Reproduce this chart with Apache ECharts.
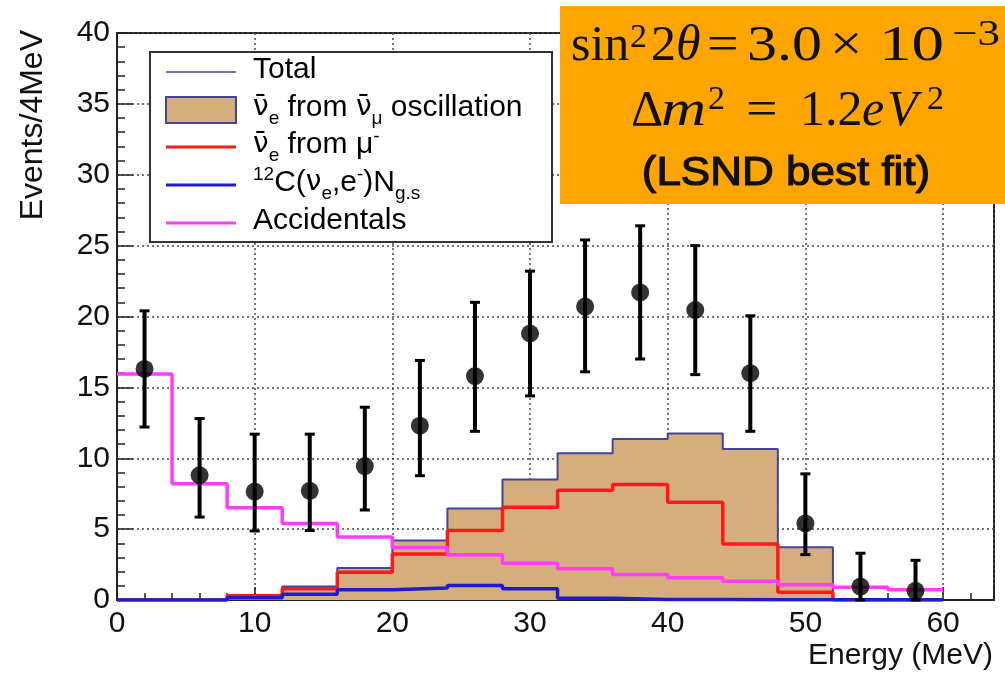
<!DOCTYPE html>
<html>
<head>
<meta charset="utf-8">
<script src="https://cdn.jsdelivr.net/npm/echarts@6/dist/echarts.min.js"></script>
<style>
  html, body { margin: 0; padding: 0; background: #fff; }
  #chart { width: 1005px; height: 675px; }
</style>
</head>
<body>
<div id="chart"></div>
<script>
// bin edges (MeV), 4 MeV wide
var binEdges = [0, 4, 8, 12, 16, 20, 24, 28, 32, 36, 40, 44, 48, 52, 56, 60];
// stacked total (tan fill + navy outline)
var totalCounts = [0, 0, 0.35, 0.95, 2.25, 4.2, 6.45, 8.5, 10.35, 11.35, 11.75, 10.65, 3.72, 0, 0];
// nu_e bar from mu- decay at rest
var muMinusCounts = [0, 0, 0.3, 0.8, 1.95, 3.25, 4.9, 6.55, 7.75, 8.15, 6.9, 3.95, 0.55, 0, 0];
// 12C(nu_e,e-)N g.s.
var carbonCounts = [0, 0, 0.15, 0.4, 0.72, 0.85, 1.03, 0.8, 0.12, 0.04, 0.03, 0.02, 0.02, 0.02, 0.02];
// accidentals
var accidentalCounts = [15.95, 8.2, 6.5, 5.4, 4.45, 3.7, 3.2, 2.6, 2.2, 1.8, 1.57, 1.33, 1.07, 0.9, 0.73];

// measured points
var dataEnergy = [2, 6, 10, 14, 18, 22, 26, 30, 34, 38, 42, 46, 50, 54, 58];
var dataCounts = [16.3, 8.8, 7.65, 7.7, 9.45, 12.3, 15.8, 18.8, 20.7, 21.7, 20.45, 16.0, 5.4, 0.95, 0.65];
var dataHigh = [20.4, 12.8, 11.7, 11.7, 13.6, 16.9, 21.0, 23.2, 25.4, 26.4, 25.0, 20.05, 8.9, 3.3, 2.8];
var dataLow = [12.2, 5.85, 4.87, 4.9, 6.35, 8.77, 11.9, 14.4, 16.1, 17.0, 15.9, 11.9, 3.2, 0, 0];

var SANS = 'Liberation Sans';
var SERIF = 'Liberation Serif';
var TAN = '#d6ad7c';
var NAVY = '#44449a';
var RED = '#ff1a1a';
var BLUE = '#1c1cd0';
var MAGENTA = '#ff3cff';
var NUBAR = '\u03bd\u0304';

function steps(vals) {
  var pts = [];
  vals.forEach(function (v, i) {
    pts.push([binEdges[i], v], [binEdges[i + 1], v]);
  });
  return pts;
}

function histLine(name, vals, color, width, z) {
  return {
    name: name, type: 'line', data: steps(vals), symbol: 'none', z: z,
    lineStyle: { color: color, width: width }, silent: true
  };
}

var chart = echarts.init(document.getElementById('chart'), null, { renderer: 'canvas' });

var rich = {
  n: { fontSize: 30, fontFamily: SANS, fill: '#000' },
  nu: { fontSize: 28, fontFamily: 'DejaVu Sans', fill: '#000' },
  sub: { fontSize: 19, fontFamily: SANS, fill: '#000', padding: [22, 0, 0, 0] },
  sup: { fontSize: 19, fontFamily: SANS, fill: '#000', padding: [0, 0, 16, 0] }
};

var legendRows = [
  { y: 72, icon: 'line', color: NAVY, w: 1.5, text: '{n|Total}' },
  { y: 110, icon: 'box', text: '{nu|' + NUBAR + '}{sub|e}{n| from }{nu|' + NUBAR + '}{sub|\u03bc}{n| oscillation}' },
  { y: 147, icon: 'line', color: RED, w: 3, text: '{nu|' + NUBAR + '}{sub|e}{n| from \u03bc}{sup|-}' },
  { y: 185, icon: 'line', color: BLUE, w: 3, text: '{sup|12}{n|C(}{nu|\u03bd}{sub|e}{n|,e}{sup|-}{n|)N}{sub|g.s}' },
  { y: 223, icon: 'line', color: MAGENTA, w: 3, text: '{n|Accidentals}' }
];

var graphics = [
  { type: 'rect', z: 100, shape: { x: 150, y: 52, width: 402, height: 190 },
    style: { fill: '#fff', stroke: '#333', lineWidth: 2 } }
];
legendRows.forEach(function (r) {
  if (r.icon === 'box') {
    graphics.push({ type: 'rect', z: 101, shape: { x: 166, y: r.y - 13, width: 70, height: 26 },
      style: { fill: TAN, stroke: NAVY, lineWidth: 2 } });
  } else {
    graphics.push({ type: 'line', z: 101, shape: { x1: 166, y1: r.y, x2: 236, y2: r.y },
      style: { stroke: r.color, lineWidth: r.w } });
  }
  graphics.push({ type: 'text', z: 101, x: 253, y: r.y - 2,
    style: { text: r.text, rich: rich, fontSize: 30, fontFamily: SANS, fill: '#000',
      textAlign: 'left', textVerticalAlign: 'middle' } });
});

// orange annotation box
graphics.push({ type: 'rect', z: 110, shape: { x: 560, y: 6, width: 445, height: 198 },
  style: { fill: '#fea502' } });
var mathPieces = [
  // line 1
  { t: 'sin', x: 571, y: 47, s: 50 },
  { t: '2', x: 630, y: 38, s: 34 },
  { t: '2', x: 651, y: 47, s: 50 },
  { t: '\u03b8', x: 676, y: 47, s: 50, i: true },
  { t: '=', x: 707, y: 47, s: 50, k: 1.12 },
  { t: '3.0', x: 747, y: 47, s: 50, k: 1.2 },
  { t: '\u00d7', x: 830, y: 47, s: 50, k: 1.15 },
  { t: '10', x: 879, y: 47, s: 50, k: 1.3 },
  { t: '\u22123', x: 952, y: 36, s: 36, k: 1.25 },
  // line 2
  { t: '\u0394', x: 631, y: 112, s: 50 },
  { t: 'm', x: 661, y: 112, s: 50, i: true, k: 1.25 },
  { t: '2', x: 708, y: 100, s: 34 },
  { t: '=', x: 746, y: 112, s: 50, k: 1.12 },
  { t: '1.2', x: 800, y: 112, s: 50 },
  { t: 'e', x: 862, y: 112, s: 50, i: true },
  { t: 'V', x: 887, y: 112, s: 50, i: true },
  { t: '2', x: 927, y: 100, s: 34 }
];
mathPieces.forEach(function (p) {
  graphics.push({ type: 'text', z: 111, x: p.x, y: p.y, scaleX: p.k || 1,
    style: { text: p.t, fontSize: p.s, fontFamily: SERIF, fontStyle: p.i ? 'italic' : 'normal',
      fill: '#111', textAlign: 'left', textVerticalAlign: 'middle' } });
});
graphics.push({ type: 'text', z: 111, x: 786, y: 174, scaleX: 1.1, originX: 0,
  style: { text: '(LSND best fit)', fontSize: 40, fontFamily: SANS,
    fill: '#111', stroke: '#111', lineWidth: 1.2, textAlign: 'center', textVerticalAlign: 'middle' } });

// axis titles
graphics.push({ type: 'text', z: 50, x: 33, y: 30, rotation: Math.PI / 2,
  style: { text: 'Events/4MeV', fontSize: 32, fontFamily: SANS, fill: '#111',
    textAlign: 'right', textVerticalAlign: 'middle' } });
graphics.push({ type: 'text', z: 50, x: 993, y: 656,
  style: { text: 'Energy (MeV)', fontSize: 30, fontFamily: SANS, fill: '#111',
    textAlign: 'right', textVerticalAlign: 'middle' } });

var option = {
  animation: false,
  backgroundColor: '#fff',
  grid: { left: 117, right: 11, top: 33, bottom: 75, show: true,
    borderColor: '#222', borderWidth: 2, backgroundColor: 'transparent' },
  xAxis: {
    type: 'value', min: 0, max: 63.7, interval: 10,
    axisLine: { show: true, onZero: false, lineStyle: { color: '#222', width: 2 } },
    axisTick: { inside: true, length: 13, lineStyle: { color: '#222', width: 1.5 } },
    minorTick: { show: true, splitNumber: 5, length: 7, lineStyle: { color: '#222', width: 1.5 } },
    axisLabel: { fontSize: 30, fontFamily: SANS, color: '#111', margin: 9, showMaxLabel: false },
    splitLine: { show: true, lineStyle: { color: '#4a4a4a', type: [2, 3], width: 1.5 } }
  },
  yAxis: {
    type: 'value', min: 0, max: 40, interval: 5,
    axisLine: { show: true, onZero: false, lineStyle: { color: '#222', width: 2 } },
    axisTick: { inside: true, length: 16, lineStyle: { color: '#222', width: 1.5 } },
    minorTick: { show: true, splitNumber: 5, length: 8, lineStyle: { color: '#222', width: 1.5 } },
    axisLabel: { fontSize: 30, fontFamily: SANS, color: '#111', margin: 7 },
    splitLine: { show: true, lineStyle: { color: '#4a4a4a', type: [2, 3], width: 1.5 } }
  },
  graphic: graphics,
  series: [
    { name: 'oscillation', type: 'line', data: steps(totalCounts), symbol: 'none', z: 1, silent: true,
      lineStyle: { width: 0 }, areaStyle: { color: TAN, opacity: 1 } },
    histLine('Total', totalCounts, NAVY, 2, 2),
    histLine('muMinus', muMinusCounts, RED, 3.5, 3),
    histLine('carbon', carbonCounts, BLUE, 3.5, 4),
    histLine('accidentals', accidentalCounts, MAGENTA, 3.5, 5),
    {
      name: 'errors', type: 'custom', z: 6, silent: true,
      data: dataEnergy.map(function (x, i) { return [x, dataLow[i], dataHigh[i]]; }),
      renderItem: function (params, api) {
        var top = api.coord([api.value(0), api.value(2)]);
        var bot = api.coord([api.value(0), api.value(1)]);
        var cap = 5;
        var st = { stroke: '#000', lineWidth: 4 };
        return { type: 'group', children: [
          { type: 'line', shape: { x1: top[0], y1: top[1], x2: bot[0], y2: bot[1] }, style: st },
          { type: 'line', shape: { x1: top[0] - cap, y1: top[1], x2: top[0] + cap, y2: top[1] }, style: { stroke: '#000', lineWidth: 3 } },
          { type: 'line', shape: { x1: bot[0] - cap, y1: bot[1], x2: bot[0] + cap, y2: bot[1] }, style: { stroke: '#000', lineWidth: 3 } }
        ] };
      }
    },
    {
      name: 'data', type: 'scatter', z: 7, silent: true, symbol: 'circle', symbolSize: 18,
      itemStyle: { color: '#000' },
      data: dataEnergy.map(function (x, i) { return [x, dataCounts[i]]; })
    }
  ]
};
chart.setOption(option);
</script>
</body>
</html>
